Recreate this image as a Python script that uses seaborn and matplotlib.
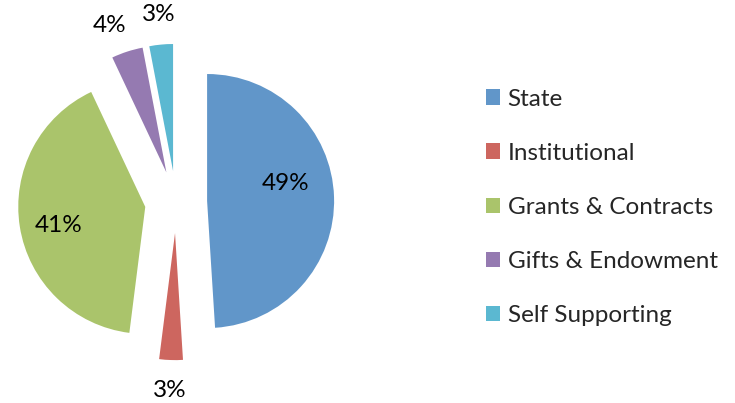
import numpy as np
import matplotlib
matplotlib.use("Agg")
import matplotlib.pyplot as plt
import seaborn as sns

# data
categories = ["State", "Institutional", "Grants & Contracts", "Gifts & Endowment", "Self Supporting"]
shares = [49, 3, 41, 4, 3]
colors = ["#6196C9", "#CD665F", "#AAC46B", "#957AB1", "#5BB8D1"]

sns.set_theme(style="white")
plt.rcParams['font.family'] = ['Lato', 'DejaVu Sans']

fig = plt.figure(figsize=(7.35, 4.03), dpi=100)
# pie centre at ~(176, 202) px, radius ~127 px
unit = 127.0
half = 1.5 * unit
ax = fig.add_axes([(176 - half) / 735, (403 - 202 - half) / 403, 2 * half / 735, 2 * half / 403])

wedges, texts, autotexts = ax.pie(
    shares, colors=colors, startangle=90, counterclock=False,
    explode=[0.245] * len(shares), autopct="%d%%",
    wedgeprops=dict(linewidth=0), textprops=dict(fontsize=17.5, color="black"),
)

# move the percentage labels: big slices inside, small ones outside
label_dist = [0.63, 1.24, 0.70, 1.24, 1.24]
label_turn = [10.5, 0, 3, 3, 0]
for w, t, d, turn in zip(wedges, autotexts, label_dist, label_turn):
    ang = np.deg2rad((w.theta1 + w.theta2) / 2 + turn)
    cx, cy = w.center
    t.set_position((cx + d * np.cos(ang), cy + d * np.sin(ang)))
    t.set_ha("center")
    t.set_va("center")

ax.set_xlim(-1.5, 1.5)
ax.set_ylim(-1.5, 1.5)
ax.axis("off")

fig.legend(wedges, categories, loc="upper left", bbox_to_anchor=(476 / 735, 1 - 79 / 403),
           frameon=False, fontsize=17.5, handlelength=0.6, handleheight=0.6,
           handletextpad=0.3, labelspacing=1.36, borderaxespad=0)

fig.savefig("out.png", dpi=100)
